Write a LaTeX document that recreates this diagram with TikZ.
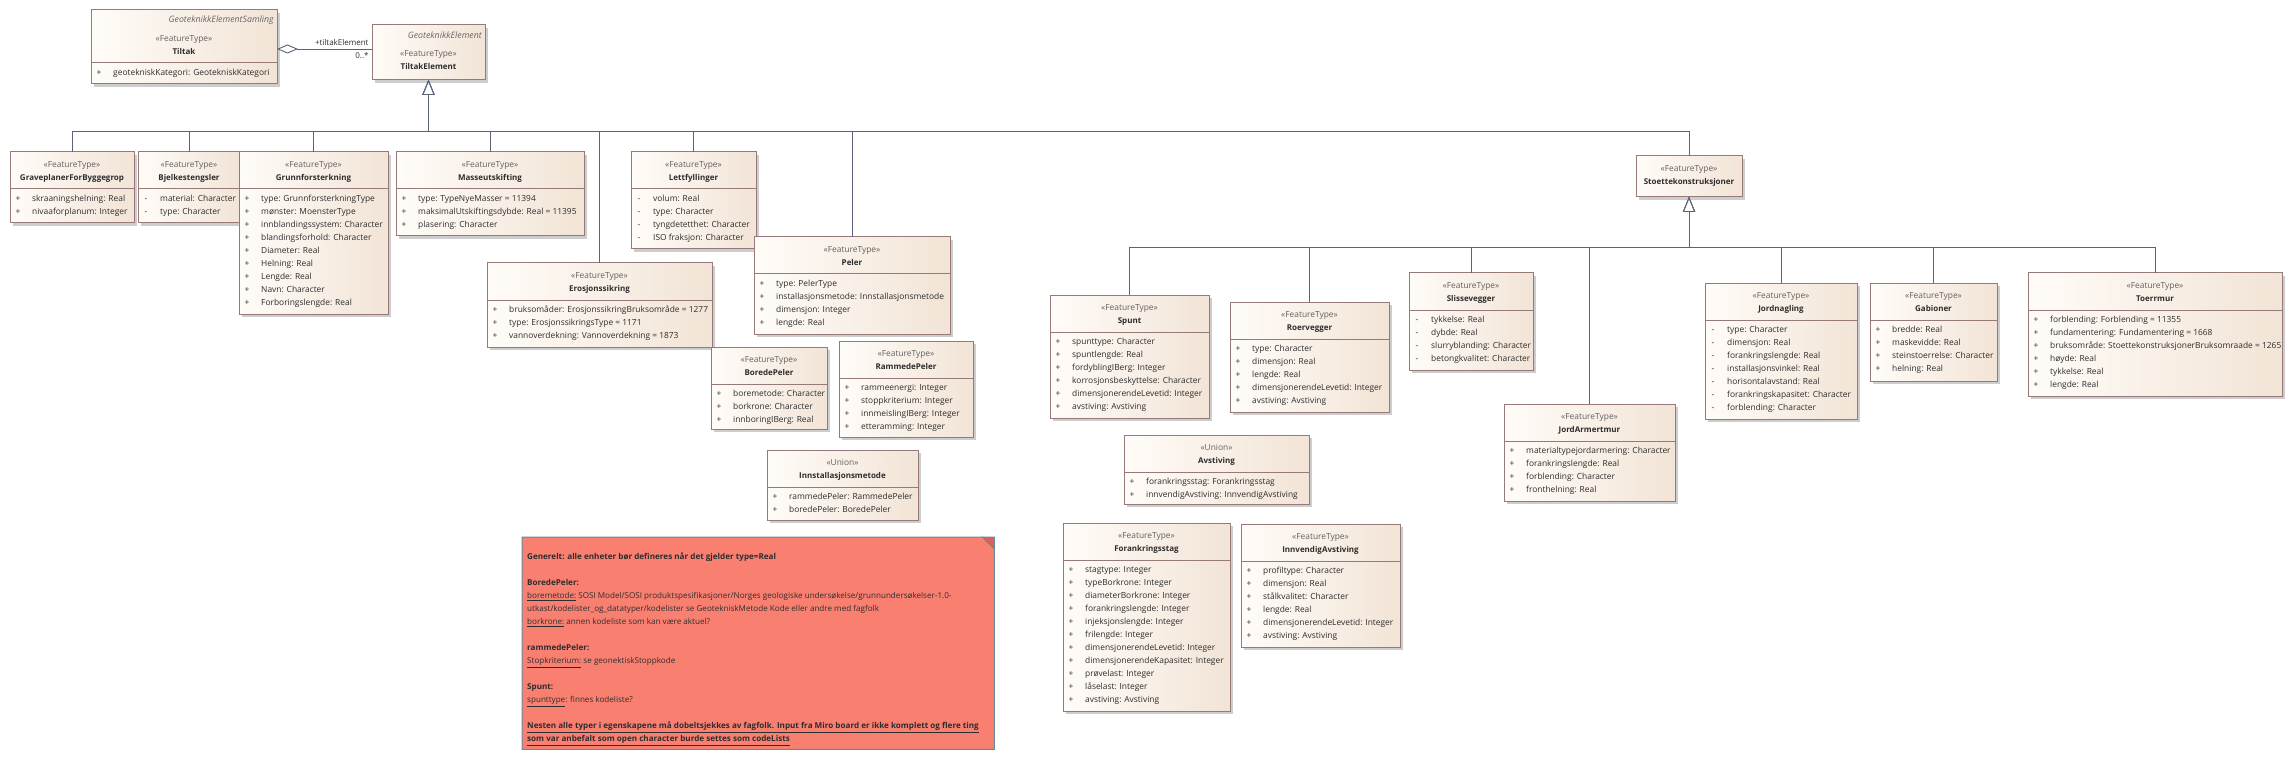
\documentclass[tikz,border=0pt]{standalone}
\usepackage{fontspec}
\setmainfont{Open Sans}
\usetikzlibrary{calc,arrows.meta,shadows}

\definecolor{boxline}{RGB}{150,122,122}
\definecolor{boxleft}{RGB}{255,252,248}
\definecolor{boxright}{RGB}{242,228,214}
\definecolor{shadowgray}{RGB}{205,205,205}
\definecolor{connline}{RGB}{92,99,121}
\definecolor{txtdark}{RGB}{45,45,45}
\definecolor{notefill}{RGB}{249,128,113}
\definecolor{noteline}{RGB}{100,140,160}
\definecolor{notefold}{RGB}{222,96,82}

\tikzset{
  classbox/.style={draw=boxline, line width=1pt, left color=boxleft, right color=boxright,
    anchor=north west, inner sep=0pt, outer sep=0pt,
    drop shadow={shadow xshift=3pt, shadow yshift=-3pt, fill=shadowgray, opacity=1}},
  stereo/.style={inner sep=0pt, text=txtdark!75, text height=6pt, text depth=1.8pt,
    font=\fontsize{8.4}{10}\selectfont},
  cname/.style={inner sep=0pt, text=txtdark, text height=6pt, text depth=1.8pt,
    font=\fontsize{8}{10}\selectfont\bfseries},
  attr/.style={inner sep=0pt, text=txtdark, text height=6pt, text depth=1.8pt,
    font=\fontsize{8.4}{10}\selectfont},
  parentname/.style={inner sep=0pt, anchor=east, text=black!60,
    font=\fontsize{8.8}{10}\selectfont\itshape},
  sepline/.style={draw=boxline, line width=1pt},
  conn/.style={draw=connline, line width=0.9pt},
  gen/.style={conn, -{Triangle[length=15pt, width=12pt, fill=white]}},
  aggr/.style={conn, {Diamond[length=21pt, width=9pt, fill=white]}-},
  lbl/.style={inner sep=3pt, text=txtdark, font=\fontsize{8}{10}\selectfont},
  notetext/.style={inner sep=0pt, align=left, anchor=north west, text=txtdark,
    font=\fontsize{8.1}{13}\selectfont},
}

% class box: [header offset] id, (x,y), width, height, stereotype, name, vis/attribute list
\newcommand{\umlclass}[8][0]{%
  \node[classbox, minimum width=#4pt, minimum height=#5pt] (#2) at #3 {};
  \node[stereo] at ($(#2.north)+(0,{13+#1})$) {«#6»};
  \node[cname] at ($(#2.north)+(0,{26+#1})$) {#7};
  \if\relax\detokenize{#8}\relax\else
    \draw[sepline] ($(#2.north west)+(0,{37+#1})$) -- ($(#2.north east)+(0,{37+#1})$);
    \foreach \avis/\atxt [count=\k] in {#8} {
      \node[attr] at ($(#2.north west)+(8,{47+#1+13*(\k-1)})$) {\avis};
      \node[attr, anchor=west] at ($(#2.north west)+(22,{47+#1+13*(\k-1)})$) {\atxt};
    }
  \fi
}

\begin{document}
\begin{tikzpicture}[x=1pt, y=-1pt]
  \fill[white] (0,0) rectangle (2293,759);
  \useasboundingbox (0,0) rectangle (2293,759);

  % top level
  \umlclass[16]{tiltak}{(91,10)}{186}{74}{FeatureType}{Tiltak}{+/geotekniskKategori: GeotekniskKategori}
  \node[parentname] at ($(tiltak.north east)+(-3,10)$) {GeoteknikkElementSamling};
  \umlclass[16]{tiltakelem}{(372,25)}{113}{55}{FeatureType}{TiltakElement}{}
  \node[parentname] at ($(tiltakelem.north east)+(-3,10)$) {GeoteknikkElement};

  \draw[aggr] ([yshift=-2pt]tiltak.east) -- ([yshift=-2pt]tiltak.east -| tiltakelem.west)
    node[lbl, pos=1, above left] {+tiltakElement}
    node[lbl, pos=1, below left] {0..*};

  % subtypes of TiltakElement
  \umlclass{graveplaner}{(10,152)}{124}{71}{FeatureType}{GraveplanerForByggegrop}{+/skraaningshelning: Real, +/nivaaforplanum: Integer}
  \umlclass{bjelke}{(138,152)}{102}{71}{FeatureType}{Bjelkestengsler}{-/material: Character, -/type: Character}
  \umlclass{grunn}{(239,152)}{149}{162}{FeatureType}{Grunnforsterkning}{+/type: GrunnforsterkningType, +/mønster: MoensterType, +/innblandingssystem: Character, +/blandingsforhold: Character, +/Diameter: Real, +/Helning: Real, +/Lengde: Real, +/Navn: Character, +/Forboringslengde: Real}
  \umlclass{masse}{(396,152)}{188}{84}{FeatureType}{Masseutskifting}{+/type: TypeNyeMasser = 11394, +/maksimalUtskiftingsdybde: Real = 11395, +/plasering: Character}
  \umlclass{lett}{(631,152)}{125}{97}{FeatureType}{Lettfyllinger}{-/volum: Real, -/type: Character, -/tyngdetetthet: Character, -/ISO fraksjon: Character}
  \umlclass{eros}{(487,263)}{225}{84}{FeatureType}{Erosjonssikring}{+/bruksomåder: ErosjonssikringBruksområde = 1277, +/type: ErosjonssikringsType = 1171, +/vannoverdekning: Vannoverdekning = 1873}
  \umlclass{peler}{(754,237)}{196}{97}{FeatureType}{Peler}{+/type: PelerType, +/installasjonsmetode: Innstallasjonsmetode, +/dimensjon: Integer, +/lengde: Real}
  \umlclass{boret}{(711,347)}{116}{82}{FeatureType}{BoredePeler}{+/boremetode: Character, +/borkrone: Character, +/innboringIBerg: Real}
  \umlclass{rammet}{(839,341)}{134}{96}{FeatureType}{RammedePeler}{+/rammeenergi: Integer, +/stoppkriterium: Integer, +/innmeislingIBerg: Integer, +/etteramming: Integer}
  \umlclass{instmetode}{(767,450)}{151}{70}{Union}{Innstallasjonsmetode}{+/rammedePeler: RammedePeler, +/boredePeler: BoredePeler}
  \umlclass{stoette}{(1636,156)}{106}{41}{FeatureType}{Stoettekonstruksjoner}{}

  % subtypes of Stoettekonstruksjoner
  \umlclass{spunt}{(1050,295)}{159}{123}{FeatureType}{Spunt}{+/spunttype: Character, +/spuntlengde: Real, +/fordyblingIBerg: Integer, +/korrosjonsbeskyttelse: Character, +/dimensjonerendeLevetid: Integer, +/avstiving: Avstiving}
  \umlclass{roer}{(1230,302)}{159}{110}{FeatureType}{Roervegger}{+/type: Character, +/dimensjon: Real, +/lengde: Real, +/dimensjonerendeLevetid: Integer, +/avstiving: Avstiving}
  \umlclass{slisse}{(1409,273)}{124}{97}{FeatureType}{Slissevegger}{-/tykkelse: Real, -/dybde: Real, -/slurryblanding: Character, -/betongkvalitet: Character}
  \umlclass{jordarm}{(1504,404)}{171}{97}{FeatureType}{JordArmertmur}{+/materialtypejordarmering: Character, +/forankringslengde: Real, +/forblending: Character, +/fronthelning: Real}
  \umlclass{jordnagl}{(1705,283)}{152}{136}{FeatureType}{Jordnagling}{-/type: Character, -/dimensjon: Real, -/forankringslengde: Real, -/installasjonsvinkel: Real, -/horisontalavstand: Real, -/forankringskapasitet: Character, -/forblending: Character}
  \umlclass{gabion}{(1870,283)}{127}{98}{FeatureType}{Gabioner}{+/bredde: Real, +/maskevidde: Real, +/steinstoerrelse: Character, +/helning: Real}
  \umlclass{toerr}{(2028,273)}{254}{123}{FeatureType}{Toerrmur}{+/forblending: Forblending = 11355, +/fundamentering: Fundamentering = 1668, +/bruksområde: StoettekonstruksjonerBruksomraade = 1265, +/høyde: Real, +/tykkelse: Real, +/lengde: Real}

  % avstiving
  \umlclass{avstiv}{(1124,435)}{185}{69}{Union}{Avstiving}{+/forankringsstag: Forankringsstag, +/innvendigAvstiving: InnvendigAvstiving}
  \umlclass{forank}{(1063,523)}{167}{188}{FeatureType}{Forankringsstag}{+/stagtype: Integer, +/typeBorkrone: Integer, +/diameterBorkrone: Integer, +/forankringslengde: Integer, +/injeksjonslengde: Integer, +/frilengde: Integer, +/dimensjonerendeLevetid: Integer, +/dimensjonerendeKapasitet: Integer, +/prøvelast: Integer, +/låselast: Integer, +/avstiving: Avstiving}
  \umlclass{innvavst}{(1241,524)}{159}{123}{FeatureType}{InnvendigAvstiving}{+/profiltype: Character, +/dimensjon: Real, +/stålkvalitet: Character, +/lengde: Real, +/dimensjonerendeLevetid: Integer, +/avstiving: Avstiving}

  % generalisations
  \coordinate (busA) at ($(tiltakelem.south)+(0,51)$);
  \foreach \c in {graveplaner, bjelke, grunn, masse, eros, lett, peler, stoette}
    \draw[gen] (\c.north) |- (busA) -- (tiltakelem.south);
  \coordinate (busB) at ($(stoette.south)+(0,50)$);
  \foreach \c in {spunt, roer, slisse, jordarm, jordnagl, gabion, toerr}
    \draw[gen] (\c.north) |- (busB) -- (stoette.south);

  % note
  \node[minimum width=472pt, minimum height=212pt, anchor=north west, inner sep=0pt] (note) at (522,537) {};
  \filldraw[fill=notefill, draw=noteline, line width=1pt] (note.north west) -- ($(note.north east)+(-12,0)$)
    -- ($(note.north east)+(0,12)$) -- (note.south east) -- (note.south west) -- cycle;
  \filldraw[fill=notefold, draw=noteline, line width=0.8pt] ($(note.north east)+(-12,0)$) -- (note.north east)
    -- ($(note.north east)+(0,12)$) -- cycle;
  \node[notetext] (notebody) at ($(note.north west)+(5,16)$) {%
    \textbf{Generelt: alle enheter bør defineres når det gjelder type=Real}\\[13pt]
    \textbf{BoredePeler:}\\
    \underline{boremetode:} SOSI Model/SOSI produktspesifikasjoner/Norges geologiske undersøkelse/grunnundersøkelser-1.0-\\
    utkast/kodelister\_og\_datatyper/kodelister se GeotekniskMetode Kode eller andre med fagfolk\\
    \underline{borkrone:} annen kodeliste som kan være aktuel?\\[13pt]
    \textbf{rammedePeler:}\\
    \underline{Stopkriterium:} se geonektiskStoppkode\\[13pt]
    \textbf{Spunt:}\\
    \underline{spunttype}: finnes kodeliste?\\[13pt]
    \textbf{\underline{Nesten alle typer i egenskapene må dobeltsjekkes av fagfolk. Input fra Miro board er ikke komplett og flere ting}}\\
    \textbf{\underline{som var anbefalt som open character burde settes som codeLists}}};
\end{tikzpicture}
\end{document}
